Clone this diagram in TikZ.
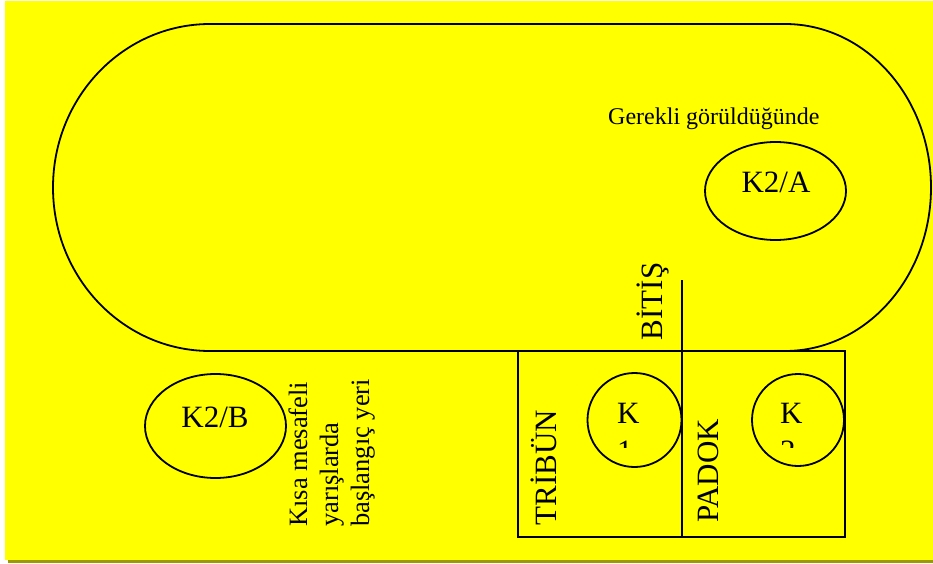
\documentclass[tikz,border=0pt]{standalone}
\usepackage{fontspec}
\setmainfont{Liberation Serif}
\definecolor{bgyellow}{HTML}{FFFF00}
\definecolor{shadowolive}{HTML}{9C9A00}
\begin{document}
\begin{tikzpicture}[x=1pt,y=1pt,
  line/.style={draw=black,line width=1.8pt},
  big/.style={font=\fontsize{31}{36}\selectfont,inner sep=0pt},
  mid/.style={font=\fontsize{26.5}{31}\selectfont,inner sep=0pt},
  small/.style={font=\fontsize{24}{28}\selectfont,inner sep=0pt}]
\useasboundingbox (0,0) rectangle (933,563);
% background and shadow
\fill[shadowolive] (8,0) rectangle (933,3);
\fill[bgyellow] (5,3) rectangle (933,562);
% track
\draw[line] (210,539) -- (785,539)
  arc[start angle=90,end angle=-90,x radius=146,y radius=163.5]
  -- (210,212)
  arc[start angle=270,end angle=90,x radius=157,y radius=163.5] -- cycle;
% boxes
\draw[line] (518,26) rectangle (845,212);
\coordinate (finTop) at (682,283);
\coordinate (finBot) at (682,26);
\draw[line] (finTop) -- (finBot);
% ellipses and circles
\draw[line] (775.5,372) ellipse[x radius=70.5,y radius=49];
\draw[line] (215.5,137) ellipse[x radius=70.5,y radius=52];
\draw[line] (634.5,143) circle[radius=47];
\draw[line] (798,143) circle[radius=46];
% texts
\node[small,anchor=base west] (ger) at (608,438) {Gerekli görüldüğünde};
\node[big,anchor=base] (k2a) at (776,370) {K2/A};
\node[big,anchor=base] (k2b) at (215,136) {K2/B};
\node[big,anchor=base west] (k1) at (617,140) {K};
\node[big,anchor=base west] (k2) at (780,140) {K};
\begin{scope}
  \clip (560,116) rectangle (860,123);
  \node[big,anchor=base west] (n1) at (617,102) {1};
  \node[big,anchor=base west] (n2) at (780,102) {2};
\end{scope}
\node[big,rotate=90,anchor=base] (trib) at (556,95.5) {TRİBÜN};
\node[big,rotate=90,anchor=base] (pad) at (718,92) {PADOK};
\node[big,rotate=90,anchor=base] (bit) at (662,261.5) {BİTİŞ};
\node[mid,rotate=90,anchor=base west] (ks1) at (307,36) {Kısa mesafeli};
\node[mid,rotate=90,anchor=base west] (ks2) at (338,36) {yarışlarda};
\node[mid,rotate=90,anchor=base west] (ks3) at (369,36) {başlangıç yeri};
\end{tikzpicture}
\end{document}
